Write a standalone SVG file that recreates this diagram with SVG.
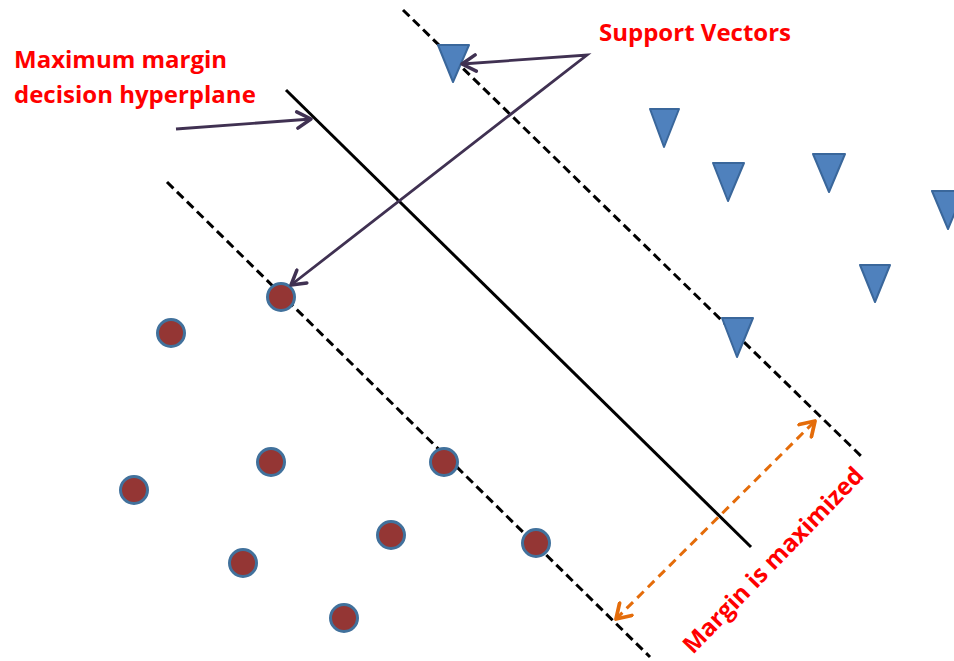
<svg xmlns="http://www.w3.org/2000/svg" width="954" height="661" viewBox="0 0 954 661">
<defs>
<style>
.lbl{font-family:"Open Sans","Liberation Sans",sans-serif;font-weight:bold;font-size:24px;fill:#ff0000}
.dash{stroke:#000;stroke-width:3;stroke-dasharray:9 5;fill:none}
.solid{stroke:#000;stroke-width:3;fill:none}
.ptr{stroke:#403152;stroke-width:2.8;fill:none}
.marg{stroke:#e46c0a;stroke-width:3;stroke-dasharray:9 6;fill:none}
.tri{fill:#4f81bd;stroke:#3a679b;stroke-width:2;stroke-linejoin:round}
.dot{fill:#943634;stroke:#41719c;stroke-width:3}
</style>
<marker id="ap" markerUnits="userSpaceOnUse" markerWidth="20" markerHeight="20" viewBox="-12 -8 14 16" refX="0" refY="0" orient="auto-start-reverse">
<path d="M-11,-6.5 L0,0 L-11,6.5" fill="none" stroke="#403152" stroke-width="2.8" stroke-linecap="round" stroke-linejoin="round"/>
</marker>
<marker id="ao" markerUnits="userSpaceOnUse" markerWidth="20" markerHeight="20" viewBox="-12 -8 14 16" refX="0" refY="0" orient="auto-start-reverse">
<path d="M-11,-7 L0,0 L-11,7" fill="none" stroke="#e46c0a" stroke-width="3" stroke-linecap="round" stroke-linejoin="round"/>
</marker>
</defs>
<rect width="954" height="661" fill="#fff"/>
<g id="lines">
<line id="margin-upper" class="dash" x1="403" y1="10" x2="862" y2="457"/>
<line id="hyperplane" class="solid" x1="286" y1="90" x2="751" y2="547"/>
<line id="margin-lower" class="dash" x1="167" y1="182" x2="650" y2="657"/>
</g>
<g id="class-triangles">
<polygon id="t1" class="tri" points="438,45 469,45 453,82"/>
<polygon id="t2" class="tri" points="650,109 679,109 664,147"/>
<polygon id="t3" class="tri" points="713,163 744,163 728,201"/>
<polygon id="t4" class="tri" points="813,154 845,154 829,192"/>
<polygon id="t5" class="tri" points="932,191 964,191 948,229"/>
<polygon id="t6" class="tri" points="860,265 890,265 875,302"/>
<polygon id="t7" class="tri" points="722,318 753,318 737,357"/>
</g>
<g id="class-circles">
<circle id="c1" class="dot" cx="281" cy="297" r="13.5"/>
<circle id="c2" class="dot" cx="171" cy="333" r="13.5"/>
<circle id="c3" class="dot" cx="271" cy="462" r="13.5"/>
<circle id="c4" class="dot" cx="444" cy="462" r="13.5"/>
<circle id="c5" class="dot" cx="134" cy="490" r="13.5"/>
<circle id="c6" class="dot" cx="391" cy="535" r="13.5"/>
<circle id="c7" class="dot" cx="536" cy="543" r="13.5"/>
<circle id="c8" class="dot" cx="243" cy="563" r="13.5"/>
<circle id="c9" class="dot" cx="344" cy="618" r="13.5"/>
</g>
<g id="connectors">
<line id="hyperplane-pointer" class="ptr" x1="176" y1="129" x2="311" y2="119" marker-end="url(#ap)"/>
<path id="sv-pointer" class="ptr" d="M462,64 L587,55 L291,285" marker-start="url(#ap)" marker-end="url(#ap)" stroke-linejoin="miter"/>
<line id="margin-arrow" class="marg" x1="616" y1="619" x2="815" y2="421" marker-start="url(#ao)" marker-end="url(#ao)"/>
</g>
<g id="labels">
<text class="lbl" x="14" y="68">Maximum margin</text>
<text class="lbl" x="14" y="103">decision hyperplane</text>
<text class="lbl" x="599" y="41">Support Vectors</text>
<text class="lbl" transform="translate(693,655) rotate(-46)">Margin is maximized</text>
</g>
</svg>
